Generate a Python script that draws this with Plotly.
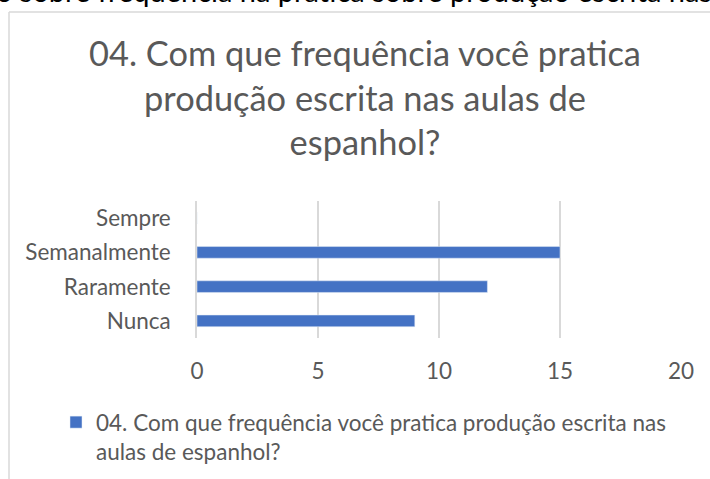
import plotly.graph_objects as go

categories = ["Nunca", "Raramente", "Semanalmente", "Sempre"]
values = [9, 12, 15, 0]
x_ticks = [0, 5, 10, 15, 20]
series_name = "04. Com que frequência você pratica produção escrita nas<br>aulas de espanhol?"
title_text = "04. Com que frequência você pratica<br>produção escrita nas aulas de<br>espanhol?"
top_text = "o sobre frequência na prática sobre produção escrita nas"

W, H = 710, 479
# plot area in pixels
X0, X1, Y0, Y1 = 197, 681, 201, 338

def fx(x):
    return x / W

def fy(y):
    return (H - y) / H

fig = go.Figure()
fig.add_trace(go.Bar(
    y=categories, x=values, orientation="h", name=series_name,
    marker=dict(color="#4472C4"), width=0.34, showlegend=True,
))

fig.update_layout(
    width=W, height=H,
    margin=dict(l=0, r=0, t=0, b=0),
    paper_bgcolor="white", plot_bgcolor="white",
    font=dict(family="Lato", color="#595959", size=22.5),
    title=dict(text=title_text, x=fx(365), xanchor="center", y=fy(66), yanchor="top",
               font=dict(size=34.4, color="#595959", family="Lato")),
    xaxis=dict(domain=[fx(X0), fx(X1)], range=[0, 20], tickvals=x_ticks, showgrid=True,
               gridcolor="#D9D9D9", gridwidth=1.5, zeroline=False, showline=False, ticks="",
               tickfont=dict(size=22.5), ticklabelstandoff=17, automargin=False),
    yaxis=dict(domain=[fy(Y1), fy(Y0)], showgrid=False, showline=True, linecolor="#D9D9D9",
               linewidth=1.5, ticks="", tickfont=dict(size=22.5), ticklabelstandoff=20,
               automargin=False),
    showlegend=True,
    legend=dict(x=fx(56), xanchor="left", y=fy(401), yanchor="top", orientation="h",
                font=dict(size=22.5, color="#595959"), bgcolor="rgba(0,0,0,0)", valign="top"),
)

# chart border (left and top edges visible)
fig.add_shape(type="line", xref="paper", yref="paper", x0=fx(9), x1=fx(9), y0=fy(12), y1=fy(H + 5),
              line=dict(color="#D9D9D9", width=1.5))
fig.add_shape(type="line", xref="paper", yref="paper", x0=fx(9), x1=fx(W + 5), y0=fy(12), y1=fy(12),
              line=dict(color="#D9D9D9", width=1.5))

# clipped document text above the chart
fig.add_annotation(text=top_text, xref="paper", yref="paper", x=fx(-6), y=fy(10), xanchor="left",
                   yanchor="bottom", showarrow=False, font=dict(size=29, color="#000000", family="Lato"))

fig.write_html("out.html", config={"displayModeBar": False},
               post_script="document.body.style.margin='0';")
